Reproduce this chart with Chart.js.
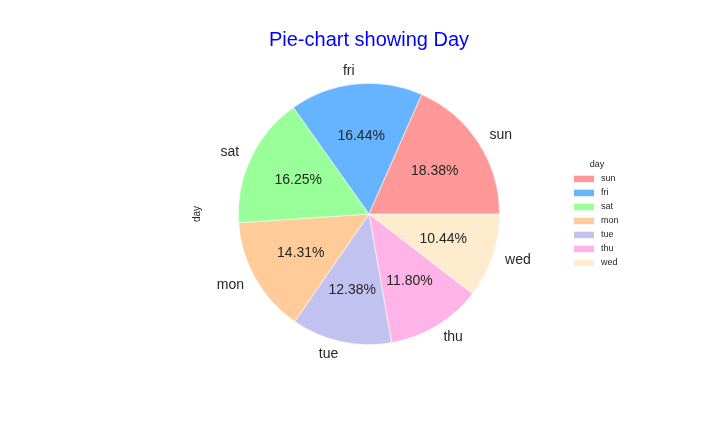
<!DOCTYPE html>
<html>
<head>
<meta charset="utf-8">
<script src="https://cdn.jsdelivr.net/npm/chart.js@4"></script>
<style>
  html, body { margin: 0; padding: 0; background: #fff; }
  #wrap { width: 720px; height: 432px; }
</style>
</head>
<body>
<div id="wrap"><canvas id="pieChart"></canvas></div>
<script>
// data (percent share per day)
const days = ["sun", "fri", "sat", "mon", "tue", "thu", "wed"];
const shares = [18.38, 16.44, 16.25, 14.31, 12.38, 11.80, 10.44];
const sliceColors = ["#ff9999", "#66b3ff", "#99ff99", "#ffcc99", "#c2c2f0", "#ffb3e6", "#ffebcd"];
const chartTitle = "Pie-chart showing Day";
const axisLabel = "day";

const FONT = "'Liberation Sans', Arial, sans-serif";
const TEXT = "#262626";

// matplotlib goes counterclockwise from 3 o'clock, chart.js clockwise,
// so feed the slices in reverse and start at 90deg
const revLabels = days.slice().reverse();
const revValues = shares.slice().reverse();
const revColors = sliceColors.slice().reverse();

// labels outside + percentages inside, title, ylabel and legend
const pieText = {
  id: "pieText",
  afterDraw(chart) {
    const ctx = chart.ctx;
    const arcs = chart.getDatasetMeta(0).data;
    const values = chart.data.datasets[0].data;
    const total = values.reduce((a, b) => a + b, 0);

    ctx.save();
    ctx.fillStyle = TEXT;
    ctx.textBaseline = "middle";
    arcs.forEach((arc, i) => {
      const p = arc.getProps(["x", "y", "startAngle", "endAngle", "outerRadius"], true);
      const mid = (p.startAngle + p.endAngle) / 2;
      const cx = Math.cos(mid), cy = Math.sin(mid);

      // day label at 1.1 r
      ctx.font = "14px " + FONT;
      ctx.textAlign = cx > 0 ? "left" : "right";
      ctx.fillText(chart.data.labels[i], p.x + cx * p.outerRadius * 1.1, p.y + cy * p.outerRadius * 1.1);

      // percent at 0.6 r
      ctx.textAlign = "center";
      const pct = (values[i] / total * 100).toFixed(2) + "%";
      ctx.fillText(pct, p.x + cx * p.outerRadius * 0.6, p.y + cy * p.outerRadius * 0.6);
    });

    // title
    ctx.fillStyle = "#0000ff";
    ctx.font = "20px " + FONT;
    ctx.textAlign = "center";
    ctx.fillText(chartTitle, 369, 40);

    // y label
    ctx.fillStyle = TEXT;
    ctx.font = "10px " + FONT;
    ctx.translate(197, 214);
    ctx.rotate(-Math.PI / 2);
    ctx.fillText(axisLabel, 0, 0);
    ctx.setTransform(chart.currentDevicePixelRatio, 0, 0, chart.currentDevicePixelRatio, 0, 0);

    // legend, in original order
    ctx.font = "9px " + FONT;
    ctx.textAlign = "center";
    ctx.fillText(axisLabel, 597, 165);
    ctx.textAlign = "left";
    days.forEach((d, i) => {
      const y = 178.7 + i * 14;
      ctx.fillStyle = sliceColors[i];
      ctx.fillRect(574, y - 3, 20, 6.5);
      ctx.fillStyle = TEXT;
      ctx.fillText(d, 601, y);
    });
    ctx.restore();
  },
};

new Chart(document.getElementById("pieChart"), {
  type: "pie",
  data: {
    labels: revLabels,
    datasets: [
      {
        data: revValues,
        backgroundColor: revColors,
        borderColor: "#ffffff",
        borderWidth: 0.6,
      },
    ],
  },
  options: {
    responsive: true,
    maintainAspectRatio: false,
    animation: false,
    rotation: 90,
    layout: {
      padding: { left: 238, right: 220, top: 83, bottom: 87 },
    },
    plugins: {
      legend: { display: false },
      tooltip: { enabled: false },
    },
  },
  plugins: [pieText],
});
</script>
</body>
</html>
